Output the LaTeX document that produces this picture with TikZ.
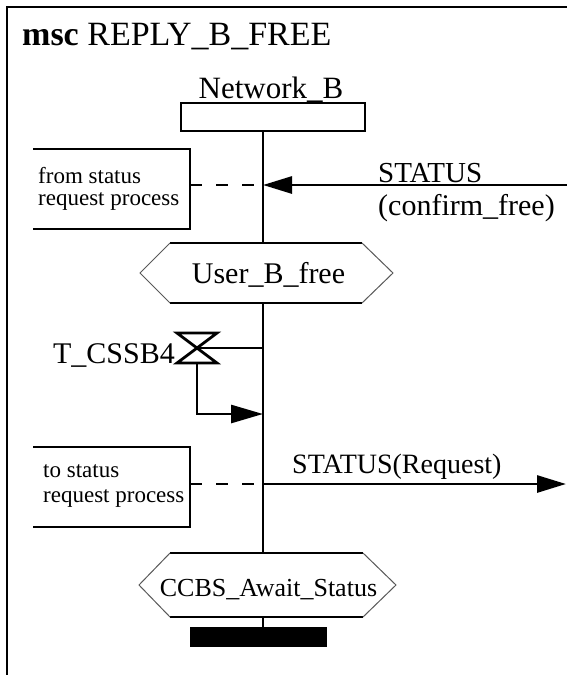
\documentclass[tikz,border=0pt]{standalone}
\usepackage{fontspec}
\setmainfont{Liberation Serif}
\usetikzlibrary{arrows.meta}
\begin{document}
\begin{tikzpicture}[x=1pt,y=-1pt,
  ln/.style={line width=2.8pt},
  thin/.style={line width=1pt, draw=black!65},
  dashln/.style={line width=2.8pt, dash pattern=on 12pt off 14pt},
  msg/.style={line width=2.8pt, -{Triangle[length=29pt,width=17pt]}},
  txt/.style={inner sep=0pt, anchor=base},
  big/.style={font=\fontsize{30}{36}\selectfont},
  small/.style={font=\fontsize{23}{25}\selectfont},
]
\useasboundingbox (0,0) rectangle (567,675);
\begin{scope}
\clip (0,0) rectangle (567,675);
% frame
\coordinate (ftr) at (570,7);
\coordinate (ftl) at (7,7);
\coordinate (fbl) at (7,680);
\draw[ln] (ftr) -- (ftl) -- (fbl);
\end{scope}
\node[txt, anchor=base west, font=\fontsize{34}{40}\selectfont] (title) at (22,45) {\textbf{msc} REPLY\_B\_FREE};

% instance head
\node[draw, line width=2.8pt, minimum width=184pt, minimum height=28pt, inner sep=0pt] (head) at (273,117) {};
\node[txt, font=\fontsize{31}{36}\selectfont] (hname) at (271,98) {Network\_B};

% lifeline
\coordinate (lt) at (263,131);
\coordinate (lb) at (263,627);
\draw[ln] (lt) -- (lb);

% left box 1
\coordinate (b1a) at (33,149);
\coordinate (b1b) at (190,149);
\coordinate (b1c) at (190,229);
\coordinate (b1d) at (33,229);
\draw[ln] (b1a) -- (b1b) -- (b1c) -- (b1d);
\node[txt, small, anchor=base west] (f1) at (38,183) {from status};
\node[txt, small, anchor=base west] (f2) at (38,205) {request process};

% incoming STATUS
\coordinate (d1s) at (190,185);
\coordinate (m1l) at (263,185);
\coordinate (m1r) at (570,185);
\draw[dashln] (d1s) -- (m1l);
\draw[msg] (m1r) -- (m1l);
\node[txt, anchor=base west, font=\fontsize{29}{34}\selectfont] (s1) at (378,182) {STATUS};
\node[txt, anchor=base west, big] (s2) at (378,215) {(confirm\_free)};

% condition User_B_free
\fill[white] (140,273) -- (170,243) -- (362,243) -- (393,273) -- (362,303) -- (170,303) -- cycle;
\draw[ln] (170,243) -- (362,243) (170,303) -- (362,303);
\draw[thin] (170,243) -- (140,273) -- (170,303) (362,243) -- (393,273) -- (362,303);
\node[txt, big] (c1) at (268.5,283) {User\_B\_free};

% timer
\coordinate (hgc) at (197,348);
\coordinate (hgb) at (197,363);
\coordinate (tc1) at (263,348);
\coordinate (tk) at (197,414);
\coordinate (tk2) at (263,414);
\draw[ln, line join=miter] (177,333) -- (217,333) -- (177,363) -- (217,363) -- cycle;
\draw[ln] (hgc) -- (tc1);
\draw[line width=2.8pt, -{Triangle[length=32pt,width=18pt]}] (hgb) -- (tk) -- (tk2);
\node[txt, big, anchor=base east] (tn) at (175,363) {T\_CSSB4};

% left box 2
\coordinate (b2a) at (33,447);
\coordinate (b2b) at (190,447);
\coordinate (b2c) at (190,527);
\coordinate (b2d) at (33,527);
\draw[ln] (b2a) -- (b2b) -- (b2c) -- (b2d);
\node[txt, small, anchor=base west] (g1) at (43,477) {to status};
\node[txt, small, anchor=base west] (g2) at (43,502) {request process};

% outgoing STATUS(Request)
\coordinate (d2s) at (190,484);
\coordinate (m2l) at (263,484);
\coordinate (m2r) at (566,484);
\draw[dashln] (d2s) -- (m2l);
\draw[msg] (m2l) -- (m2r);
\node[txt, anchor=base west, font=\fontsize{28}{34}\selectfont] (s3) at (292,473) {STATUS(Request)};

% condition CCBS_Await_Status
\fill[white] (139,585) -- (170,553) -- (363,553) -- (396,585) -- (363,617) -- (170,617) -- cycle;
\draw[ln] (170,553) -- (363,553) (170,617) -- (363,617);
\draw[thin] (170,553) -- (139,585) -- (170,617) (363,553) -- (396,585) -- (363,617);
\node[txt, font=\fontsize{26}{30}\selectfont] (c2) at (268.5,596) {CCBS\_Await\_Status};

% stop bar
\node[fill=black, minimum width=137pt, minimum height=20pt, inner sep=0pt] (stop) at (258.5,637) {};
\end{tikzpicture}
\end{document}
